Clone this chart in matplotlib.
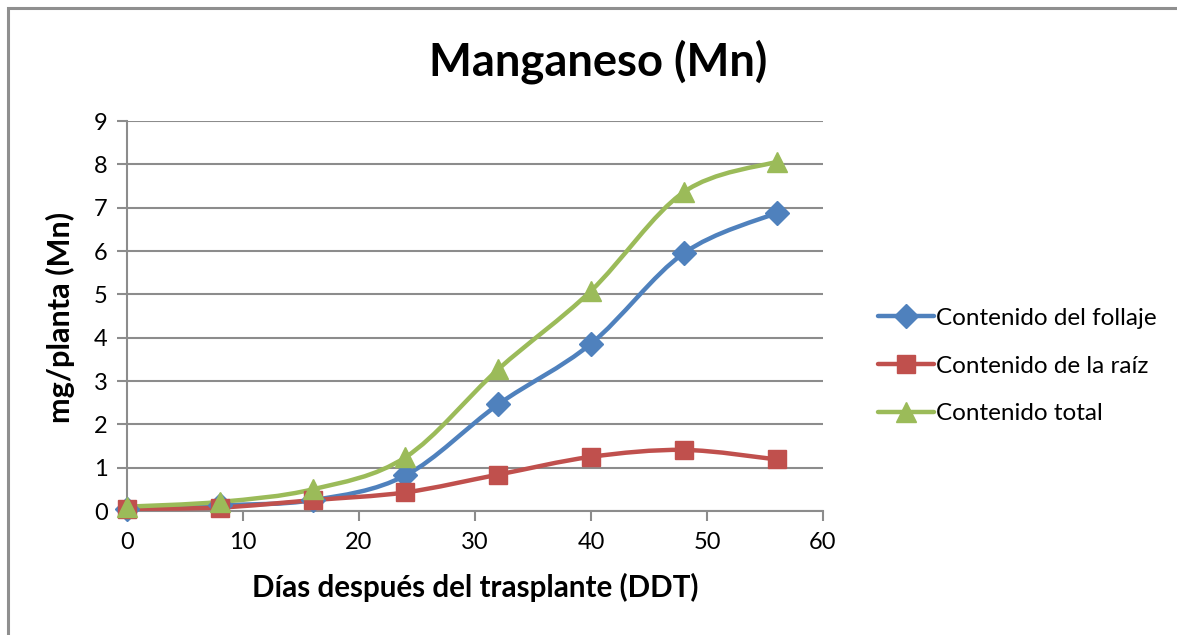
import numpy as np
import matplotlib
matplotlib.use("Agg")
import matplotlib.pyplot as plt
from matplotlib.path import Path
from matplotlib.patches import PathPatch, Rectangle
from matplotlib.lines import Line2D

plt.rcParams["font.family"] = ["Lato", "DejaVu Sans"]

# Datos
dias = [0, 8, 16, 24, 32, 40, 48, 56]
follaje = [0.05, 0.13, 0.25, 0.82, 2.46, 3.86, 5.95, 6.88]
raiz = [0.05, 0.08, 0.25, 0.43, 0.84, 1.25, 1.41, 1.19]
total = [0.10, 0.21, 0.50, 1.24, 3.27, 5.08, 7.36, 8.06]

series = [
    ("Contenido del follaje", follaje, "#4F81BD", "D", 12.5),
    ("Contenido de la raíz", raiz, "#C0504D", "s", 13.5),
    ("Contenido total", total, "#9BBB59", "^", 14.5),
]

GRID = "#8C8C8C"


def smooth_path(x, y):
    """Curva suavizada tipo Excel (Bezier con puntos de control Catmull-Rom)."""
    x = np.asarray(x, float)
    y = np.asarray(y, float)
    verts = [(x[0], y[0])]
    codes = [Path.MOVETO]
    n = len(x)
    for i in range(n - 1):
        x0, y0 = (x[i - 1], y[i - 1]) if i > 0 else (x[i], y[i])
        x3, y3 = (x[i + 2], y[i + 2]) if i + 2 < n else (x[i + 1], y[i + 1])
        c1 = (x[i] + (x[i + 1] - x0) / 6, y[i] + (y[i + 1] - y0) / 6)
        c2 = (x[i + 1] - (x3 - x[i]) / 6, y[i + 1] - (y3 - y[i]) / 6)
        verts += [c1, c2, (x[i + 1], y[i + 1])]
        codes += [Path.CURVE4] * 3
    return Path(verts, codes)


def fit_text(txt, target_px, renderer, vertical=False):
    """Ajusta el tamaño de fuente para que el texto mida target_px."""
    for _ in range(3):
        bb = txt.get_window_extent(renderer)
        size = bb.height if vertical else bb.width
        txt.set_fontsize(txt.get_fontsize() * target_px / size)


fig = plt.figure(figsize=(11.77, 6.35), dpi=100)
fig.patches.append(Rectangle((8 / 1177, -0.1), 1.2, (635 - 8) / 635 + 0.1,
                             transform=fig.transFigure, fill=False,
                             edgecolor="#8F8F8F", linewidth=2.2, zorder=0))

ax = fig.add_axes([127 / 1177, (635 - 511) / 635, (823 - 127) / 1177, (511 - 121) / 635])

for label, vals, color, marker, ms in series:
    ax.add_patch(PathPatch(smooth_path(dias, vals), facecolor="none",
                           edgecolor=color, linewidth=3.2, capstyle="round",
                           zorder=3))
    ax.plot(dias, vals, linestyle="none", marker=marker, markersize=ms,
            color=color, markeredgecolor=color, zorder=4, clip_on=False)

ax.set_xlim(0, 60)
ax.set_ylim(0, 9)
ax.set_xticks(range(0, 61, 10))
ax.set_yticks(range(0, 10))
ax.yaxis.grid(True, color=GRID, linewidth=1.5)
ax.set_axisbelow(True)
for s in ("top", "right"):
    ax.spines[s].set_visible(False)
for s in ("left", "bottom"):
    ax.spines[s].set_color(GRID)
    ax.spines[s].set_linewidth(1.5)
ax.tick_params(axis="both", direction="out", length=7, width=1.5, color=GRID,
               labelsize=17, labelcolor="black")
ax.tick_params(axis="y", pad=7)
ax.tick_params(axis="x", pad=8)

title = fig.text(598 / 1177, 1 - 62 / 635, "Manganeso (Mn)", fontsize=29,
                 fontweight="bold", ha="center", va="center")
xl = fig.text(475 / 1177, 1 - 587 / 635, "Días después del trasplante (DDT)",
              fontsize=20, fontweight="bold", ha="center", va="center")
yl = fig.text(60 / 1177, 1 - 317 / 635, "mg/planta (Mn)", fontsize=20,
              fontweight="bold", ha="center", va="center", rotation=90)

handles = [Line2D([0], [0], color=c, linewidth=3.2, marker=m, markersize=ms,
                  solid_capstyle="round")
           for _, _, c, m, ms in series]
leg = fig.legend(handles, [s[0] for s in series], loc="center left",
                 bbox_to_anchor=(878 / 1177, 1 - 366 / 635), frameon=False,
                 prop={"size": 17.5}, handlelength=2.3, handletextpad=0.1,
                 labelspacing=1.1, borderaxespad=0, borderpad=0)

renderer = fig.canvas.get_renderer()
fit_text(title, 338, renderer)
fit_text(xl, 445, renderer)
fit_text(yl, 211, renderer, vertical=True)

fig.savefig("out.png", dpi=100)
